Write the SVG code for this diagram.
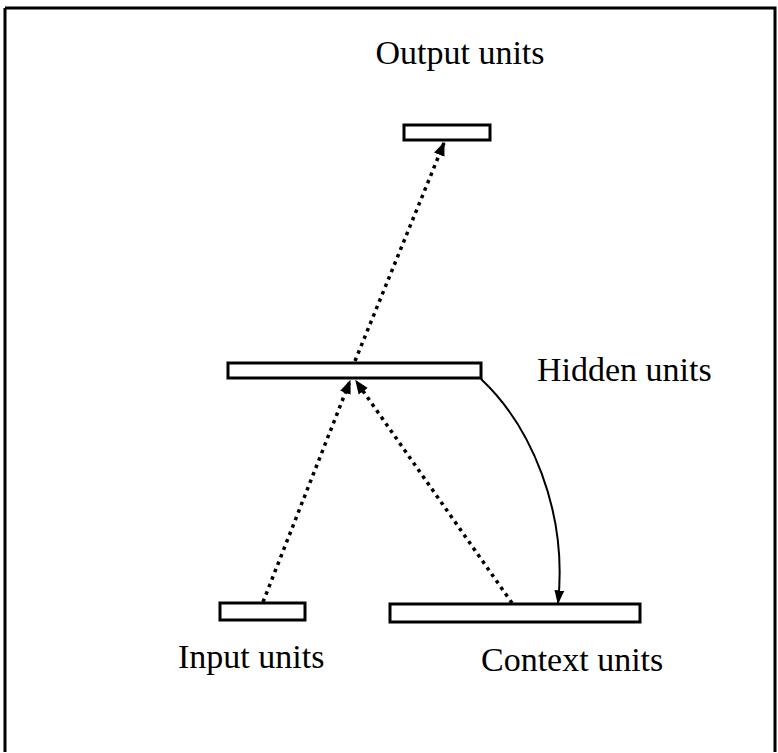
<svg xmlns="http://www.w3.org/2000/svg" width="778" height="753" viewBox="0 0 778 753">
<style>
.box{fill:#fff;stroke:#000;stroke-width:3}
.lbl{font-family:"Liberation Serif",serif;font-size:34px;fill:#000}
.dot{fill:none;stroke:#000;stroke-width:3.5;stroke-dasharray:3.5 4.5}
.sol{fill:none;stroke:#000;stroke-width:2}
</style>
<defs>
<marker id="ah" viewBox="0 0 10 10" refX="9" refY="5" markerWidth="4" markerHeight="4" orient="auto" markerUnits="strokeWidth">
<path d="M0,1 L10,5 L0,9 Z" fill="#000"/>
</marker>
<marker id="ah2" viewBox="0 0 10 10" refX="9" refY="5" markerWidth="7" markerHeight="7" orient="auto" markerUnits="strokeWidth">
<path d="M0,1.5 L10,5 L0,8.5 Z" fill="#000"/>
</marker>
</defs>
<rect x="0" y="0" width="778" height="753" fill="#fff"/>
<g id="frame">
<path d="M5,8 L775,8 L775,752 M5,8 L5,752" fill="none" stroke="#000" stroke-width="3"/>
</g>
<g id="connectors">
<path class="dot" d="M355,361 L444,143" marker-end="url(#ah)"/>
<path class="dot" d="M263,602 L350,381" marker-end="url(#ah)"/>
<path class="dot" d="M512,603 L356,381" marker-end="url(#ah)"/>
<path class="sol" d="M481,379 C530,425 568,510 558,603" marker-end="url(#ah2)"/>
</g>
<g id="output">
<rect class="box" x="404" y="125" width="86" height="15"/>
<text class="lbl" x="460" y="64" text-anchor="middle">Output units</text>
</g>
<g id="hidden">
<rect class="box" x="228" y="363" width="253" height="15"/>
<text class="lbl" x="537" y="381">Hidden units</text>
</g>
<g id="input">
<rect class="box" x="220" y="603" width="85" height="17"/>
<text class="lbl" x="178" y="668">Input units</text>
</g>
<g id="context">
<rect class="box" x="390" y="604" width="250" height="18"/>
<text class="lbl" x="481" y="671">Context units</text>
</g>
</svg>
